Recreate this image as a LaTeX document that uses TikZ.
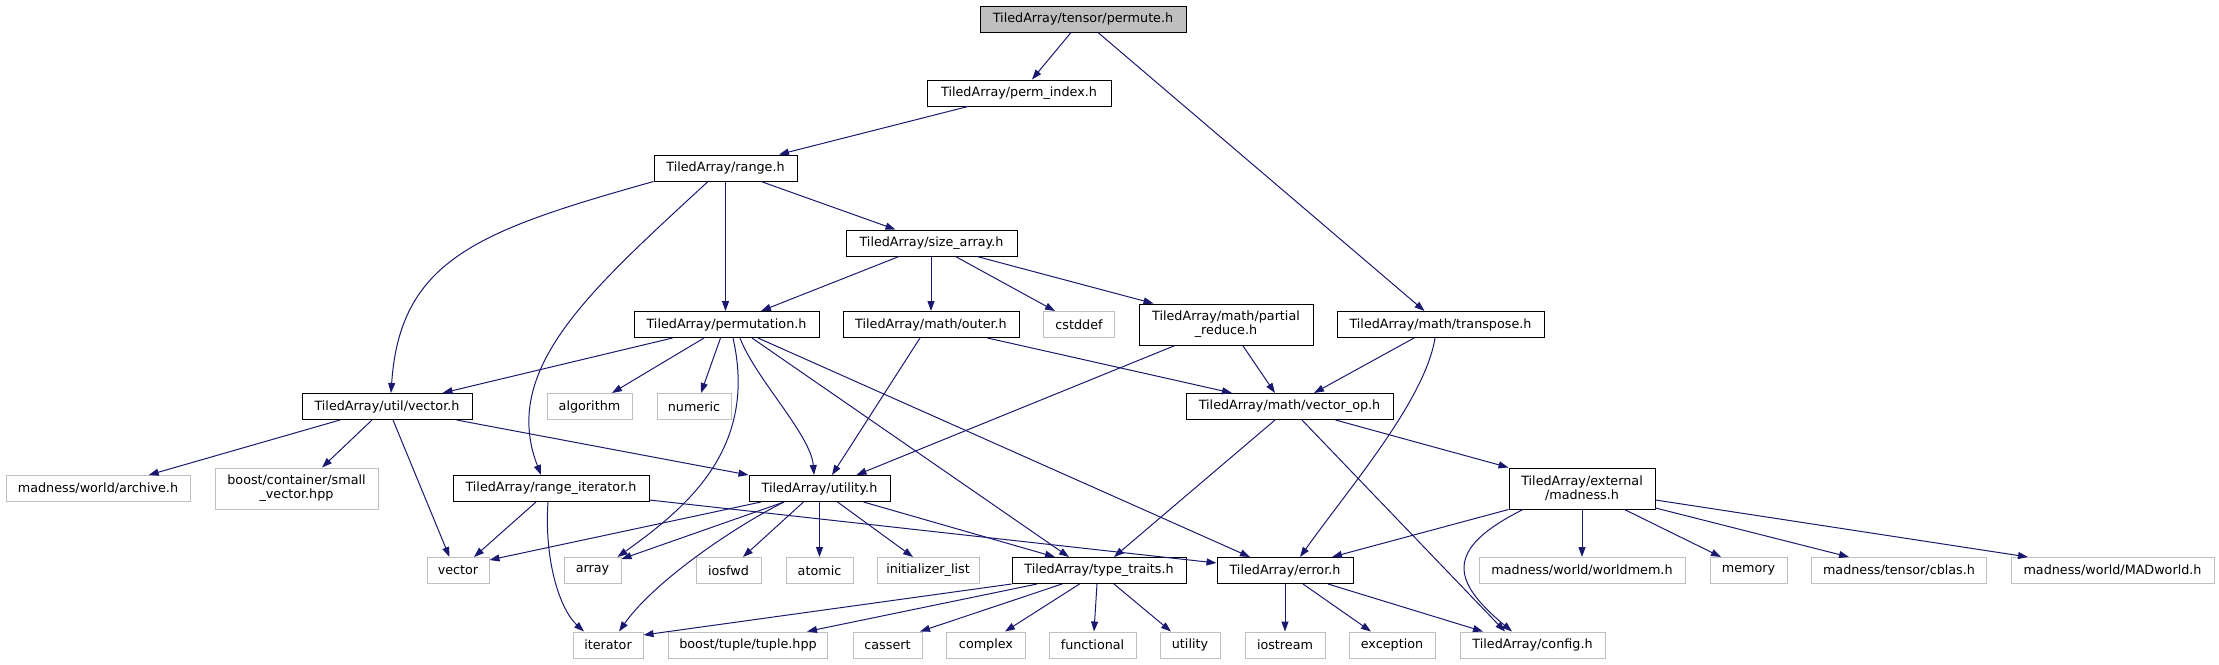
\documentclass[tikz,border=0pt]{standalone}
\usepackage{fontspec}
\setmainfont{DejaVu Sans}
\usetikzlibrary{arrows.meta}
\definecolor{edgeblue}{HTML}{191970}
\definecolor{gray75}{HTML}{BFBFBF}
\tikzset{
  lbl/.style={inner sep=0pt, align=center, line width=1pt, minimum height=26pt,
    font=\fontsize{12.75}{14}\selectfont},
  doc/.style={lbl, draw=black, fill=white},
  ext/.style={lbl, draw=gray75, fill=white},
  rootnode/.style={lbl, draw=black, fill=gray75},
  tall/.style={minimum height=41pt},
  edge/.style={draw=edgeblue, line width=1pt, -{Triangle[length=10pt,width=7pt]}},
}
\begin{document}
\begin{tikzpicture}[x=1pt,y=-1pt]
\useasboundingbox (0,0) rectangle (2219,664);
% nodes
\node[rootnode, minimum width=206pt] (permute) at (1083,19) {TiledArray/tensor/permute.h};
\node[doc, minimum width=184pt] (permidx) at (1019,93) {TiledArray/perm\_index.h};
\node[doc, minimum width=143pt] (range) at (725.5,168) {TiledArray/range.h};
\node[doc, minimum width=171pt] (sizearr) at (931.5,243) {TiledArray/size\_array.h};
\node[doc, minimum width=185pt] (perm) at (726.5,324.5) {TiledArray/permutation.h};
\node[doc, minimum width=176pt] (outer) at (931,324.5) {TiledArray/math/outer.h};
\node[ext, minimum width=70.5pt] (cstddef) at (1079,324.5) {cstddef};
\node[doc, tall, minimum width=174pt] (partred) at (1226,324.5) {TiledArray/math/partial\\\_reduce.h};
\node[doc, minimum width=207pt] (transp) at (1440.5,324.5) {TiledArray/math/transpose.h};
\node[doc, minimum width=170pt] (uvec) at (387,406.5) {TiledArray/util/vector.h};
\node[ext, minimum width=85pt] (algo) at (589.5,406.5) {algorithm};
\node[ext, minimum width=74pt] (numeric) at (694,406.5) {numeric};
\node[doc, minimum width=207pt] (vecop) at (1289.5,406.5) {TiledArray/math/vector\_op.h};
\node[ext, minimum width=184pt] (archive) at (98,488.5) {madness/world/archive.h};
\node[ext, tall, minimum width=163pt] (smallvec) at (296.5,488.5) {boost/container/small\\\_vector.hpp};
\node[doc, minimum width=196pt] (rangeit) at (551,488.5) {TiledArray/range\_iterator.h};
\node[doc, minimum width=141pt] (util) at (819.5,488.5) {TiledArray/utility.h};
\node[doc, tall, minimum width=146pt] (madness) at (1582,488.5) {TiledArray/external\\/madness.h};
\node[ext, minimum width=62pt] (svector) at (458,570.5) {vector};
\node[ext, minimum width=57pt] (array) at (592.5,570.5) {array};
\node[ext, minimum width=65pt] (iosfwd) at (728.5,570.5) {iosfwd};
\node[ext, minimum width=67pt] (atomic) at (819.5,570.5) {atomic};
\node[ext, minimum width=102pt] (initlist) at (928,570.5) {initializer\_list};
\node[doc, minimum width=174pt] (ttraits) at (1099,570.5) {TiledArray/type\_traits.h};
\node[doc, minimum width=136pt] (error) at (1285,570.5) {TiledArray/error.h};
\node[ext, minimum width=206pt] (worldmem) at (1582,570.5) {madness/world/worldmem.h};
\node[ext, minimum width=77pt] (memory) at (1748.5,570.5) {memory};
\node[ext, minimum width=175pt] (cblas) at (1899,570.5) {madness/tensor/cblas.h};
\node[ext, minimum width=203pt] (madworld) at (2112.5,570.5) {madness/world/MADworld.h};
\node[ext, minimum width=70pt] (iterator) at (608,645) {iterator};
\node[ext, minimum width=158.5pt] (tuple) at (748,645) {boost/tuple/tuple.hpp};
\node[ext, minimum width=69pt] (cassert) at (887.5,645) {cassert};
\node[ext, minimum width=78.5pt] (complex) at (986,645) {complex};
\node[ext, minimum width=87pt] (functional) at (1092.5,645) {functional};
\node[ext, minimum width=60pt] (sutility) at (1190,645) {utility};
\node[ext, minimum width=80pt] (iostream) at (1285,645) {iostream};
\node[ext, minimum width=86pt] (exception) at (1392,645) {exception};
\node[ext, minimum width=145pt] (config) at (1532.5,645) {TiledArray/config.h};
% edges
\draw[edge] ([xshift=-12pt]permute.south) -- ([xshift=13pt]permidx.north);
\draw[edge] ([xshift=15pt]permute.south) -- ([xshift=-16pt]transp.north);
\draw[edge] ([xshift=-51pt]permidx.south) -- ([xshift=53.5pt]range.north);
\draw[edge] (range.south west) .. controls +(-174,49) and +(9,-134) .. ([xshift=4pt]uvec.north);
\draw[edge] ([xshift=-17.5pt]range.south) .. controls +(-118,109) and +(-41,-106) .. ([xshift=-10pt]rangeit.north);
\draw[edge] (range.south) -- ([xshift=-1pt]perm.north);
\draw[edge] ([xshift=35.5pt]range.south) -- ([xshift=-36pt]sizearr.north);
\draw[edge] ([xshift=-32.5pt]sizearr.south) -- ([xshift=34.5pt]perm.north);
\draw[edge] ([xshift=-0.5pt]sizearr.south) -- (outer.north);
\draw[edge] ([xshift=24pt]sizearr.south) -- ([xshift=-24pt]cstddef.north);
\draw[edge] ([xshift=45.5pt]sizearr.south) -- ([xshift=-72.5pt]partred.north);
\draw[edge] ([xshift=-54pt]perm.south) -- ([xshift=55.5pt]uvec.north);
\draw[edge] ([xshift=-22.5pt]perm.south) -- ([xshift=22.5pt]algo.north);
\draw[edge] ([xshift=-6pt]perm.south) -- ([xshift=7pt]numeric.north);
\draw[edge] ([xshift=6.5pt]perm.south) .. controls +(25,110) and +(70,-50) .. ([xshift=-4pt]array.north east);
\draw[edge] ([xshift=13.5pt]perm.south) .. controls +(15,40) and +(-3,-40) .. ([xshift=-5.5pt]util.north);
\draw[edge] ([xshift=25.5pt]perm.south) -- ([xshift=-30pt]ttraits.north);
\draw[edge] ([xshift=31.5pt]perm.south) -- ([xshift=-35pt]error.north);
\draw[edge] ([xshift=-11pt]outer.south) -- ([xshift=12.5pt]util.north);
\draw[edge] ([xshift=56.5pt]outer.south) -- ([xshift=-57.5pt]vecop.north);
\draw[edge] ([xshift=-51pt]partred.south) -- ([xshift=37pt]util.north);
\draw[edge] ([xshift=16.7pt]partred.south) -- ([xshift=-14.5pt]vecop.north);
\draw[edge] ([xshift=-26.5pt]transp.south) -- ([xshift=24.5pt]vecop.north);
\draw[edge] ([xshift=-5.5pt]transp.south) .. controls +(-10,62) and +(50,-70) .. ([xshift=15pt]error.north);
\draw[edge] ([xshift=-47pt]uvec.south) -- ([xshift=50.7pt]archive.north);
\draw[edge] ([xshift=-15pt]uvec.south) -- ([xshift=25.5pt]smallvec.north);
\draw[edge] ([xshift=6pt]uvec.south) -- ([xshift=-8.5pt]svector.north);
\draw[edge] ([xshift=69.6pt]uvec.south) -- (util.north west);
\draw[edge] ([xshift=-15pt]rangeit.south) -- ([xshift=16pt]svector.north);
\draw[edge] ([xshift=-3pt]rangeit.south) .. controls +(-4,59) and +(-24,-22) .. ([xshift=-24pt]iterator.north);
\draw[edge] ([yshift=-11.5pt]rangeit.east) -- ([yshift=7.5pt]error.west);
\draw[edge] ([xshift=-58.5pt]util.south) -- ([yshift=10.5pt]svector.east);
\draw[edge] ([xshift=-35.5pt]util.south) -- ([yshift=-2pt]array.north east);
\draw[edge] ([xshift=-16pt]util.south) -- ([xshift=14.5pt]iosfwd.north);
\draw[edge] (util.south) -- (atomic.north);
\draw[edge] ([xshift=18pt]util.south) -- ([xshift=-15pt]initlist.north);
\draw[edge] ([xshift=44pt]util.south) -- ([xshift=-44pt]ttraits.north);
\draw[edge] ([xshift=-35.5pt]util.south) .. controls +(-50,25) and +(35,-50) .. ([xshift=11pt]iterator.north);
\draw[edge] ([xshift=-14.5pt]vecop.south) -- ([xshift=15pt]ttraits.north);
\draw[edge] ([xshift=12.5pt]vecop.south) -- ([xshift=-27.5pt]config.north);
\draw[edge] ([xshift=46pt]vecop.south) -- (madness.north west);
\draw[edge] (madness.south west) -- ([xshift=47pt]error.north);
\draw[edge] ([xshift=-59pt]madness.south) .. controls +(-80,40) and +(-60,-50) .. ([xshift=-20.5pt]config.north);
\draw[edge] (madness.south) -- (worldmem.north);
\draw[edge] ([xshift=42.5pt]madness.south) -- ([xshift=-27.5pt]memory.north);
\draw[edge] ([yshift=1.5pt]madness.south east) -- ([xshift=-50pt]cblas.north);
\draw[edge] ([yshift=-11.5pt]madness.east) -- ([xshift=-84.5pt]madworld.north);
\draw[edge] (ttraits.south west) -- ([yshift=10pt]iterator.east);
\draw[edge] ([xshift=-62pt]ttraits.south) -- ([xshift=59pt]tuple.north);
\draw[edge] ([xshift=-37pt]ttraits.south) -- ([xshift=32.5pt]cassert.north);
\draw[edge] ([xshift=-19.5pt]ttraits.south) -- ([xshift=19pt]complex.north);
\draw[edge] ([xshift=-2pt]ttraits.south) -- ([xshift=1.5pt]functional.north);
\draw[edge] ([xshift=15pt]ttraits.south) -- ([xshift=-19pt]sutility.north);
\draw[edge] (error.south) -- (iostream.north);
\draw[edge] ([xshift=18pt]error.south) -- ([xshift=-21pt]exception.north);
\draw[edge] ([xshift=43pt]error.south) -- ([xshift=-49.5pt]config.north);
\end{tikzpicture}
\end{document}
